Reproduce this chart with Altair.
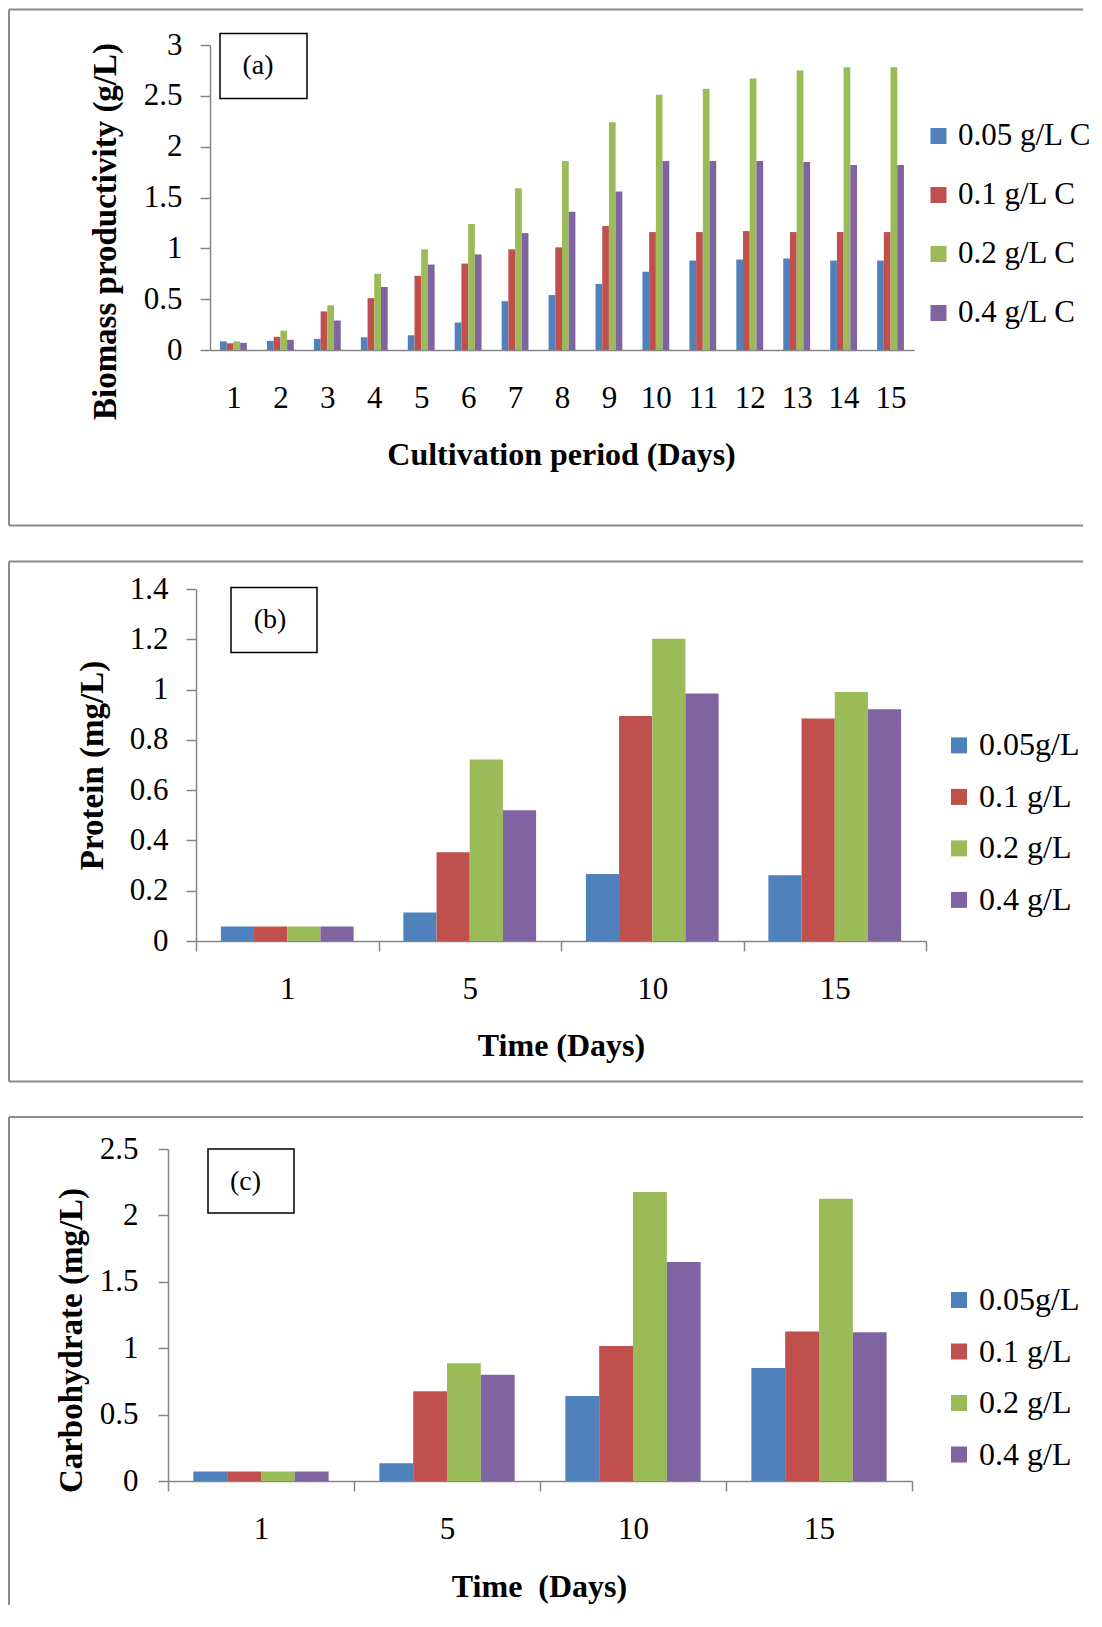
import altair as alt
import pandas as pd

FONT = "Liberation Serif"
GRAY = "#868686"
FRAME = "#8c8c8c"
colors = ["#4F81BD", "#C0504D", "#9BBB59", "#8064A2"]

# ---------- Panel (a): biomass productivity ----------
days_a = ["1", "2", "3", "4", "5", "6", "7", "8", "9", "10", "11", "12", "13", "14", "15"]
series_a = ["0.05 g/L C", "0.1 g/L C", "0.2 g/L C", "0.4 g/L C"]
a_005 = [0.085, 0.09, 0.11, 0.125, 0.145, 0.27, 0.48, 0.54, 0.65, 0.77, 0.88, 0.89, 0.90, 0.88, 0.88]
a_01 = [0.066, 0.13, 0.38, 0.51, 0.73, 0.85, 0.99, 1.01, 1.22, 1.16, 1.16, 1.17, 1.16, 1.16, 1.16]
a_02 = [0.085, 0.19, 0.44, 0.75, 0.99, 1.24, 1.59, 1.86, 2.24, 2.51, 2.57, 2.67, 2.75, 2.78, 2.78]
a_04 = [0.07, 0.10, 0.29, 0.62, 0.84, 0.94, 1.15, 1.36, 1.56, 1.86, 1.86, 1.86, 1.85, 1.82, 1.82]
yticks_a = [0, 0.5, 1, 1.5, 2, 2.5, 3]

# ---------- Panels (b) and (c) ----------
days_bc = ["1", "5", "10", "15"]
series_bc = ["0.05g/L", "0.1 g/L", "0.2 g/L", "0.4 g/L"]

b_005 = [0.058, 0.113, 0.266, 0.262]
b_01 = [0.058, 0.353, 0.895, 0.885]
b_02 = [0.058, 0.722, 1.202, 0.99]
b_04 = [0.058, 0.52, 0.984, 0.922]
yticks_b = [0, 0.2, 0.4, 0.6, 0.8, 1, 1.2, 1.4]

c_005 = [0.071, 0.134, 0.64, 0.85]
c_01 = [0.071, 0.676, 1.017, 1.126]
c_02 = [0.071, 0.886, 2.176, 2.125]
c_04 = [0.071, 0.80, 1.65, 1.12]
yticks_c = [0, 0.5, 1, 1.5, 2, 2.5]


def long_df(days, series, cols):
    rows = []
    for s, vals in zip(series, cols):
        for d, v in zip(days, vals):
            rows.append({"day": d, "series": s, "value": v})
    return pd.DataFrame(rows)


def panel(df, days, series, ymax, yvals, w, h, x0, gap_frac, ytitle, xtitle,
          ytx, yty, xtx, xty, x_ticks, ylabpad, legx, legy, rowpad, legfs,
          frame, box, label, labxy):
    fl, fr, ft, fb, has_bottom = frame
    one = pd.DataFrame({"k": [0]})
    base = alt.Chart(one)
    rule_style = dict(color=FRAME, strokeWidth=2)
    layers = [
        base.mark_rule(**rule_style).encode(x=alt.value(fl), x2=alt.value(fr), y=alt.value(ft)),
        base.mark_rule(**rule_style).encode(x=alt.value(fl), y=alt.value(ft), y2=alt.value(fb)),
    ]
    if has_bottom:
        layers.append(base.mark_rule(**rule_style).encode(x=alt.value(fl), x2=alt.value(fr), y=alt.value(fb)))

    step = (w - x0) / len(days)
    gap = step * gap_frac

    xaxis = alt.Axis(
        title=xtitle, labelAngle=0, labelFont=FONT, labelFontSize=31, labelColor="black",
        labelBaseline="middle", labelPadding=(38 if x_ticks else 48),
        ticks=x_ticks, tickSize=(10 if x_ticks else 0), tickBand="extent",
        tickColor=GRAY, tickWidth=1.5, domainColor=GRAY, domainWidth=1.5,
        titleFont=FONT, titleFontSize=32, titleFontWeight="bold", titleColor="black",
        titleX=xtx, titleY=xty, titleAlign="center", titleBaseline="middle",
    )
    yaxis = alt.Axis(
        values=yvals, format="~g", title=ytitle, grid=False, offset=-x0,
        labelFont=FONT, labelFontSize=31, labelColor="black", labelPadding=ylabpad,
        tickSize=10, tickColor=GRAY, tickWidth=1.5, domainColor=GRAY, domainWidth=1.5,
        titleFont=FONT, titleFontSize=33, titleFontWeight="bold", titleColor="black",
        titleAngle=270, titleX=ytx, titleY=yty, titleAlign="center", titleBaseline="middle",
    )
    legend = alt.Legend(
        title=None, orient="none", legendX=legx, legendY=legy,
        symbolType="square", symbolSize=256, symbolStrokeWidth=0, symbolOpacity=1,
        labelFont=FONT, labelFontSize=legfs, labelColor="black", labelOffset=4,
        labelLimit=200, rowPadding=rowpad, padding=0,
    )
    bars = alt.Chart(df).mark_bar().encode(
        x=alt.X("day:N", sort=days,
                scale=alt.Scale(domain=days, range=[x0, w], paddingInner=0, paddingOuter=0),
                axis=xaxis),
        xOffset=alt.XOffset("series:N", sort=series,
                            scale=alt.Scale(domain=series, range=[gap / 2, step - gap / 2],
                                            paddingInner=0, paddingOuter=0)),
        y=alt.Y("value:Q", scale=alt.Scale(domain=[0, ymax], nice=False), axis=yaxis),
        color=alt.Color("series:N", scale=alt.Scale(domain=series, range=colors), legend=legend),
    )
    layers.append(bars)
    bx1, bx2, by1, by2 = box
    layers.append(base.mark_rect(fill="white", stroke="black", strokeWidth=1.5).encode(
        x=alt.value(bx1), x2=alt.value(bx2), y=alt.value(by1), y2=alt.value(by2)))
    layers.append(base.mark_text(font=FONT, fontSize=28, color="black", align="center",
                                 baseline="middle").encode(
        x=alt.value(labxy[0]), y=alt.value(labxy[1]), text=alt.value(label)))
    return alt.layer(*layers).properties(width=w, height=h)


df_a = long_df(days_a, series_a, [a_005, a_01, a_02, a_04])
df_b = long_df(days_bc, series_bc, [b_005, b_01, b_02, b_04])
df_c = long_df(days_bc, series_bc, [c_005, c_01, c_02, c_04])

# all panels share a common origin (page x = 167); panels (a) and (b) start their
# category axis further right, as in the original figure
pa = panel(df_a, days_a, series_a, 3, yticks_a, 746, 305, 42, 3 / 7,
           "Biomass productivity (g/L)", "Cultivation period (Days)",
           -105, 186, 393, 104, False, 18, 755, 75.5, 27, 31,
           (-159, 915, -35.5, 480.5, True), (52, 139, -11.5, 53.5), "(a)", (90, 21))

pb = panel(df_b, days_bc, series_bc, 1.4, yticks_b, 758, 352, 28, 1.5 / 5.5,
           "Protein (mg/L)", "Time (Days)",
           -104, 176, 393, 104, True, 18, 775, 140.4, 19.5, 32,
           (-159, 915, -27.6, 492.4, True), (63, 149, -1.6, 63.4), "(b)", (102, 31))

pc = panel(df_c, days_bc, series_bc, 2.5, yticks_c, 744, 332, 0, 1.5 / 5.5,
           "Carbohydrate (mg/L)", "Time\u00a0 (Days)",
           -97, 191, 371, 105.5, True, 20, 775, 135, 19.5, 32,
           (-159, 915, -32, 456, False), (40, 126, 0, 64), "(c)", (77.5, 32.7))

chart = alt.concat(pa, pb, pc, columns=1, spacing=33, align="none").resolve_scale(
    color="independent", x="independent", y="independent", xOffset="independent"
).properties(padding=0).configure_view(stroke=None)

chart.save("out.html", embed_options={"renderer": "svg", "actions": False})
